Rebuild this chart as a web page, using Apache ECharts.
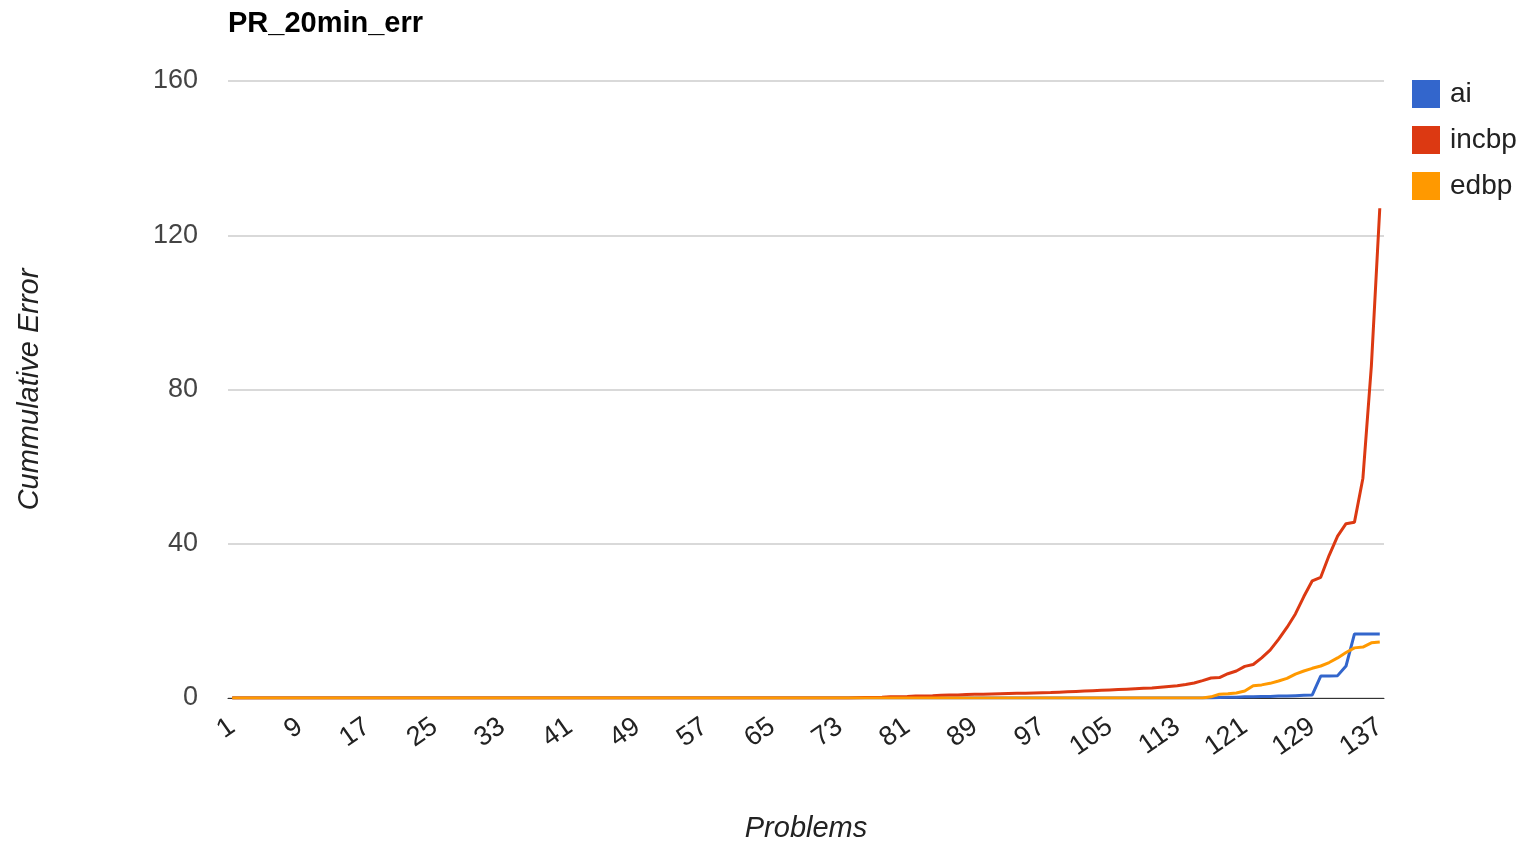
<!DOCTYPE html>
<html>
<head>
<meta charset="utf-8">
<title>PR_20min_err</title>
<script src="https://cdn.jsdelivr.net/npm/echarts@6/dist/echarts.min.js"></script>
<style>
  html, body { margin: 0; padding: 0; background: #ffffff; }
  #chart { width: 1527px; height: 843px; }
</style>
</head>
<body>
<div id="chart"></div>
<script>
// Problem numbers 1..137 along the x axis
const problems = [];
for (let i = 1; i <= 137; i++) problems.push(String(i));

// Cumulative error per problem, one array per solver
const aiValues = [
  0,0,0,0,0,0,0,0,0,0, 0,0,0,0,0,0,0,0,0,0,
  0,0,0,0,0,0,0,0,0,0, 0,0,0,0,0,0,0,0,0,0,
  0,0,0,0,0,0,0,0,0,0, 0,0,0,0,0,0,0,0,0,0,
  0,0,0,0,0,0,0,0,0,0, 0,0,0,0,0,0,0,0,0,0,
  0,0,0,0,0,0,0,0,0,0, 0,0,0,0,0,0,0,0,0,0,
  0,0,0,0,0,0,0,0,0,0, 0,0,0,0,0,0,0,0.1,0.2,0.2,
  0.3,0.3,0.4,0.4,0.5,0.5,0.6,0.7,0.8,5.7, 5.7,5.8,8.3,16.6,16.6,16.6,16.6
];

const incbpValues = [
  0,0,0,0,0,0,0,0,0,0, 0,0,0,0,0,0,0,0,0,0,
  0,0,0,0,0,0,0,0,0,0, 0,0,0,0,0,0,0,0,0,0,
  0,0,0,0,0,0,0,0,0,0, 0,0,0,0,0,0,0,0,0,0,
  0,0,0,0,0,0,0,0,0,0, 0,0,0,0,0.05,0.1,0.15,0.2,0.3,0.35,
  0.4,0.5,0.55,0.6,0.7,0.75,0.8,0.9,0.95,1.0, 1.05,1.1,1.15,1.2,1.25,1.3,1.35,1.4,1.5,1.6,
  1.7,1.8,1.9,2.0,2.1,2.2,2.3,2.4,2.5,2.6, 2.8,3.0,3.2,3.5,3.9,4.5,5.2,5.3,6.3,7.0,
  8.2,8.7,10.4,12.4,15.2,18.3,21.8,26.3,30.4,31.3, 37,42,45.2,45.6,57,86,127
];

const edbpValues = [
  0,0,0,0,0,0,0,0,0,0, 0,0,0,0,0,0,0,0,0,0,
  0,0,0,0,0,0,0,0,0,0, 0,0,0,0,0,0,0,0,0,0,
  0,0,0,0,0,0,0,0,0,0, 0,0,0,0,0,0,0,0,0,0,
  0,0,0,0,0,0,0,0,0,0, 0,0,0,0,0,0,0,0,0,0,
  0,0,0,0,0,0,0,0,0,0, 0,0,0,0,0,0,0,0,0,0,
  0,0,0,0,0,0,0,0,0,0, 0,0,0,0,0,0,0.3,1.0,1.1,1.3,
  1.8,3.2,3.4,3.8,4.4,5.1,6.2,7.0,7.7,8.3, 9.2,10.4,11.8,13.0,13.2,14.3,14.5
];

const seriesNames = ['ai', 'incbp', 'edbp'];
const seriesColors = ['#3366cc', '#dc3912', '#ff9900'];
const yTicks = [0, 40, 80, 120, 160];

const FONT = '"Liberation Sans", Arial, sans-serif';
const chart = echarts.init(document.getElementById('chart'), null, { renderer: 'canvas' });

const makeLine = (name, data, color) => ({
  name: name,
  type: 'line',
  data: data,
  showSymbol: false,
  symbol: 'none',
  smooth: false,
  lineStyle: { color: color, width: 3 },
  itemStyle: { color: color },
  emphasis: { disabled: true }
});

chart.setOption({
  animation: false,
  backgroundColor: '#ffffff',
  textStyle: { fontFamily: FONT },
  title: {
    text: 'PR_20min_err',
    left: 223,
    top: 4,
    textStyle: { fontFamily: FONT, fontSize: 29, fontWeight: 'bold', color: '#000000' }
  },
  legend: {
    orient: 'vertical',
    left: 1407,
    top: 75,
    icon: 'rect',
    itemWidth: 28,
    itemHeight: 28,
    itemGap: 18,
    data: seriesNames,
    textStyle: { fontFamily: FONT, fontSize: 28, color: '#222222', padding: [0, 0, 0, 5] }
  },
  grid: {
    left: 228, right: 143, top: 81, bottom: 145,
    containLabel: false,
    outerBoundsMode: 'none'
  },
  xAxis: {
    type: 'category',
    data: problems,
    boundaryGap: true,
    name: 'Problems',
    nameLocation: 'middle',
    nameGap: 116,
    nameTextStyle: { fontFamily: FONT, fontSize: 29, fontStyle: 'italic', color: '#222222' },
    axisLine: { show: true, lineStyle: { color: '#333333', width: 1 } },
    axisTick: { show: false },
    splitLine: { show: false },
    axisLabel: {
      interval: 7,
      rotate: 35,
      margin: 26,
      fontFamily: FONT,
      fontSize: 27,
      color: '#222222'
    }
  },
  yAxis: {
    type: 'value',
    min: yTicks[0],
    max: yTicks[yTicks.length - 1],
    interval: 40,
    name: 'Cummulative Error',
    nameLocation: 'middle',
    nameGap: 184,
    nameTextStyle: { fontFamily: FONT, fontSize: 29, fontStyle: 'italic', color: '#222222' },
    axisLine: { show: false },
    axisTick: { show: false },
    splitLine: { show: true, lineStyle: { color: '#cccccc', width: 1.5 } },
    axisLabel: { margin: 30, fontFamily: FONT, fontSize: 27, color: '#444444' }
  },
  series: [
    makeLine(seriesNames[0], aiValues, seriesColors[0]),
    makeLine(seriesNames[1], incbpValues, seriesColors[1]),
    makeLine(seriesNames[2], edbpValues, seriesColors[2])
  ]
});
</script>
</body>
</html>
